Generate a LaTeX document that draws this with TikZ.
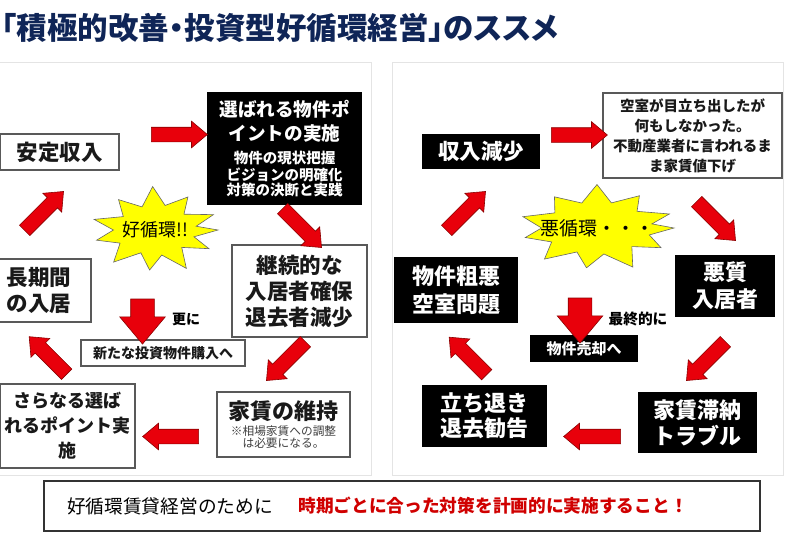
\documentclass[tikz,border=0pt]{standalone}
\usepackage{fontspec}
\setmainfont{Noto Sans CJK JP}
\newfontfamily\titlefont[RawFeature=+palt]{Noto Sans CJK JP}
\usetikzlibrary{shapes.arrows}
\newcommand\setfs[2]{\fontsize{#1}{#2}\selectfont}
\definecolor{arrred}{HTML}{E8000B}
\definecolor{arredge}{HTML}{8B0000}
\definecolor{navy}{HTML}{0F2557}
\definecolor{txtred}{HTML}{D00000}
\definecolor{panelgray}{HTML}{E4E4E4}
\definecolor{boxgray}{HTML}{595959}
\definecolor{stary}{HTML}{FFFF00}
\tikzset{
  whitebox/.style={draw=boxgray, line width=1.2pt, fill=white, align=center, inner sep=0pt, text=black!90},
  blackbox/.style={fill=black, text=white, align=center, inner sep=0pt},
  redarrow/.style={single arrow, fill=arrred, draw=arredge, line width=0.6pt,
    single arrow head extend=6pt, single arrow tip angle=80, inner sep=0pt},
  burst/.style={fill=stary, draw=black!60, line width=0.6pt, line join=miter},
  panel/.style={draw=panelgray, line width=1pt, fill=white},
  big/.style={font=\setfs{21.5}{26}\bfseries},
}
\newcommand\shaft{\rule{0pt}{14pt}}
\newcommand\fatshaft{\rule{0pt}{23pt}}
\begin{document}
\begin{tikzpicture}[x=1pt,y=-1pt]
\useasboundingbox (0,0) rectangle (800,533);
\fill[white] (0,0) rectangle (800,533);
% title
\node[anchor=west, inner sep=0pt, text=navy, font=\titlefont\setfs{30.5}{34}\bfseries] (title) at (1.5,28) {「積極的改善・投資型好循環経営」のススメ};
% panels
\node[panel, minimum width=376pt, minimum height=413pt] (lpanel) at (183,268.5) {};
\node[panel, minimum width=391pt, minimum height=413pt] (rpanel) at (587.5,268.5) {};
% ---------- left panel ----------
\node[whitebox, big, minimum width=119pt, minimum height=36pt] (antei) at (59.5,152) {安定収入};
\node[blackbox, text width=155pt, minimum height=113pt] (erab) at (284.5,148.5)
  {\bfseries\setfs{18.6}{24}選ばれる物件ポ\\イントの実施\par\vspace{6pt}\setfs{14.5}{17}物件の現状把握\\ビジョンの明確化\\対策の決断と実践};
\node[whitebox, big, minimum width=135pt, minimum height=92pt] (keizoku) at (299.5,291) {継続的な\\入居者確保\\退去者減少};
\node[whitebox, big, minimum width=104pt, minimum height=63pt] (choki) at (39,290.5) {長期間\\の入居};
\node[whitebox, font=\setfs{14}{16}\bfseries, minimum width=164pt, minimum height=26pt] (atara) at (163,353) {新たな投資物件購入へ};
\node[whitebox, text width=133pt, minimum height=65pt] (iji) at (283.5,424.5)
  {\bfseries\setfs{22}{24}家賃の維持\par\vspace{2pt}\mdseries\color{black!75}\setfs{11.7}{14}※相場家賃への調整\\は必要になる。};
\node[whitebox, font=\setfs{18}{25}\bfseries, minimum width=135pt, minimum height=84pt] (sarani) at (67.5,426) {さらなる選ば\\れるポイント実\\施};
\node[font=\setfs{14}{16}\bfseries, inner sep=0pt] (sarani2) at (186,319) {更に};
% arrows
\node[redarrow, minimum height=56pt] (a1) at (175,134.5) {\shaft};
\node[redarrow, minimum height=55pt, rotate=-45] (a2) at (299,225) {\shaft};
\node[redarrow, minimum height=55pt, rotate=-135] (a3) at (289,358) {\shaft};
\node[redarrow, minimum height=56pt, rotate=180] (a4) at (175,436.5) {\shaft};
\node[redarrow, minimum height=53pt, rotate=135] (a5) at (51,358.5) {\shaft};
\node[redarrow, minimum height=55pt, rotate=45] (a6) at (41,214) {\shaft};
\node[redarrow, single arrow head extend=11pt, minimum height=45pt, rotate=-90] (a7) at (142.5,314.5) {\fatshaft};
% starburst
\coordinate (goodc) at (155,230);
\begin{scope}[shift={(goodc)}, x=63pt, y=-41pt]
\draw[burst] (0:1.0) -- (15:0.64) -- (28:0.97) -- (45:0.6) -- (62:1.06) -- (80:0.62) -- (95:0.98) -- (112:0.6)
  -- (130:1.02) -- (150:0.64) -- (165:0.96) -- (180:0.66) -- (195:1.0) -- (213:0.6) -- (232:0.94) -- (250:0.6)
  -- (268:1.06) -- (285:0.62) -- (303:0.96) -- (320:0.6) -- (338:1.0) -- (352:0.66) -- cycle;
\end{scope}
\node[font=\setfs{18}{20}, inner sep=0pt] (goodt) at (goodc) {好循環!!};
% ---------- right panel ----------
\node[blackbox, big, minimum width=118pt, minimum height=35pt] (genshou) at (481,151.5) {収入減少};
\node[whitebox, font=\setfs{14.5}{20}\bfseries, minimum width=179pt, minimum height=85pt] (kushitsu) at (692.5,135.5)
  {空室が目立ち出したが\\何もしなかった。\\不動産業者に言われるま\\ま家賃値下げ};
\node[blackbox, font=\setfs{22}{27}\bfseries, minimum width=100pt, minimum height=62pt] (akushitsu) at (725,286) {悪質\\入居者};
\node[blackbox, font=\setfs{22}{28}\bfseries, minimum width=124pt, minimum height=66pt] (soaku) at (456,290) {物件粗悪\\空室問題};
\node[blackbox, font=\setfs{15}{17}\bfseries, minimum width=108pt, minimum height=27pt] (baikyaku) at (584,348.5) {物件売却へ};
\node[blackbox, font=\setfs{22}{26}\bfseries, minimum width=119pt, minimum height=61pt] (taino) at (697.5,422.5) {家賃滞納\\トラブル};
\node[blackbox, font=\setfs{22}{25}\bfseries, minimum width=125pt, minimum height=62pt] (tachi) at (484.5,416) {立ち退き\\退去勧告};
\node[font=\setfs{14.7}{16}\bfseries, inner sep=0pt] (saishu) at (638,319) {最終的に};
% arrows
\node[redarrow, minimum height=56pt] (b1) at (575,135) {\shaft};
\node[redarrow, minimum height=55pt, rotate=-45] (b2) at (713,218) {\shaft};
\node[redarrow, minimum height=55pt, rotate=-135] (b3) at (709,358) {\shaft};
\node[redarrow, minimum height=57pt, rotate=180] (b4) at (596.5,436.5) {\shaft};
\node[redarrow, minimum height=53pt, rotate=135] (b5) at (471,359) {\shaft};
\node[redarrow, minimum height=55pt, rotate=45] (b6) at (463,214) {\shaft};
\node[redarrow, single arrow head extend=11pt, minimum height=45pt, rotate=-90] (b7) at (580,313.5) {\fatshaft};
% starburst
\coordinate (badc) at (597,228);
\begin{scope}[shift={(badc)}, x=77pt, y=-41pt]
\draw[burst] (0:1.0) -- (14:0.7) -- (30:0.96) -- (45:0.64) -- (64:1.06) -- (82:0.64) -- (98:0.98) -- (114:0.64)
  -- (132:1.02) -- (150:0.68) -- (166:0.96) -- (180:0.72) -- (196:1.0) -- (214:0.66) -- (234:0.94) -- (252:0.64)
  -- (270:1.06) -- (287:0.64) -- (305:0.96) -- (322:0.66) -- (340:1.0) -- (352:0.72) -- cycle;
\end{scope}
\node[font=\setfs{19}{21}, inner sep=0pt] (badt) at (badc) {悪循環・・・};
% ---------- bottom ----------
\node[draw=black!80, line width=1.2pt, fill=white, minimum width=716pt, minimum height=50pt, inner sep=0pt] (bottom) at (402,506) {};
\node[font=\setfs{18.7}{22}, inner sep=0pt] (bl) at (170,506) {好循環賃貸経営のために};
\node[font=\setfs{17.7}{22}\bfseries, text=txtred, inner sep=0pt] (br) at (493,506) {時期ごとに合った対策を計画的に実施すること！};
\end{tikzpicture}
\end{document}
